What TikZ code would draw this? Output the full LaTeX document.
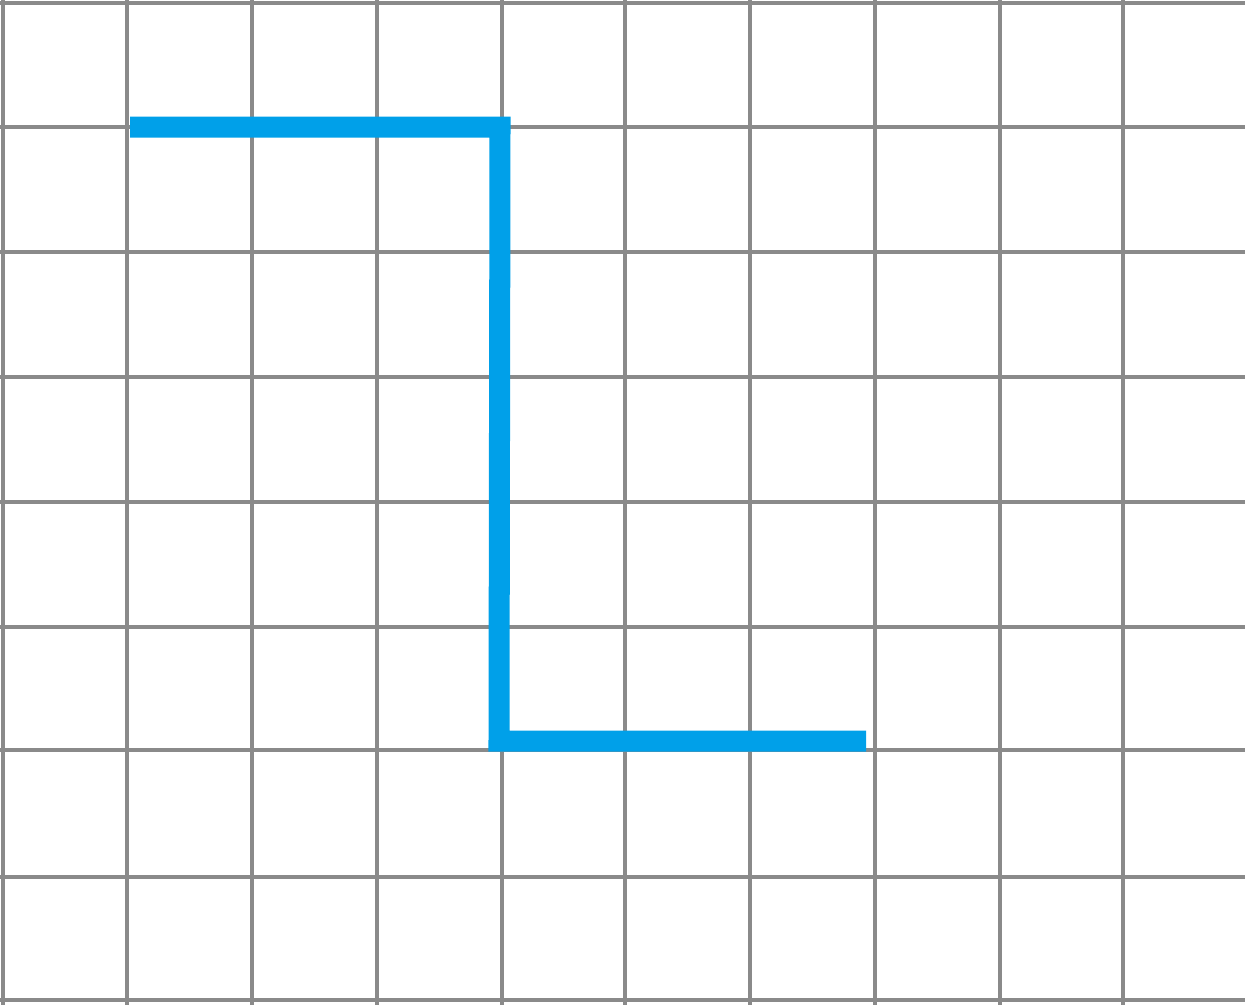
\documentclass[tikz,border=0pt]{standalone}
\definecolor{gridgray}{RGB}{138,138,138}
\definecolor{pathblue}{RGB}{0,160,233}
\tikzset{
  gridline/.style={draw=gridgray, line width=0.045cm},
  bluepath/.style={draw=pathblue, line width=0.21cm, line join=miter, line cap=butt},
}
\begin{document}
\begin{tikzpicture}[x=0.01cm,y=-0.01cm]
\useasboundingbox (0,0) rectangle (1245,1005);
\fill[white] (0,0) rectangle (1245,1005);
\foreach \x in {3,127,252,377,502,625,750,875,1000,1123,1248}
  \draw[gridline] (\x,0) -- (\x,1005);
\foreach \y in {3,127,252,377,502,627,750,877,1000}
  \draw[gridline] (0,\y) -- (1245,\y);
\coordinate (start) at (130,127);
\coordinate (c1) at (500,127);
\coordinate (c2) at (499,741);
\coordinate (finish) at (866,741);
\draw[bluepath] (start) -- (c1) -- (c2) -- (finish);
\end{tikzpicture}
\end{document}
